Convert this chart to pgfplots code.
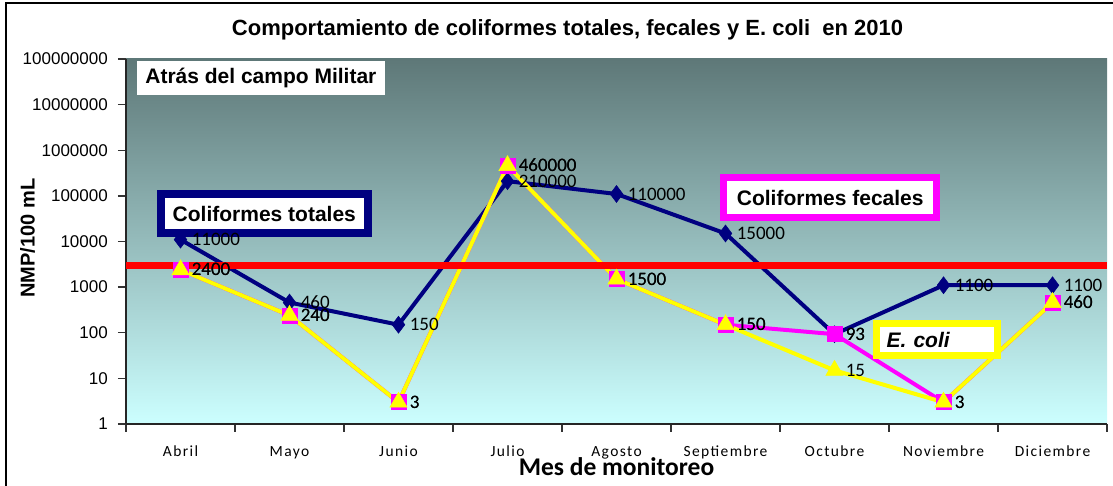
\documentclass[border=0pt]{standalone}
\usepackage{fontspec}
\setmainfont{Liberation Sans}
\newfontfamily\calibri{Carlito}
\newfontfamily\calibrisp{Carlito}[LetterSpace=9]
\usepackage{pgfplots}
\pgfplotsset{compat=1.18}
\definecolor{navyc}{RGB}{0,0,128}
\definecolor{magc}{RGB}{255,0,255}
\definecolor{yelc}{RGB}{255,255,0}
\definecolor{bgtop}{RGB}{94,120,120}
\definecolor{bgbot}{RGB}{204,255,255}
\newcommand\fs[1]{\fontsize{#1}{#1}\selectfont}
\begin{document}
\begin{tikzpicture}
\path[use as bounding box] (0pt,0pt) rectangle (1113pt,485pt);
\draw[black, line width=2pt] (6pt,-5pt) -- (6pt,482pt) -- (1120pt,482pt);
\begin{axis}[
  at={(126pt,61pt)}, anchor=south west,
  scale only axis, width=981pt, height=365pt,
  clip=false,
  xmin=-0.5, xmax=8.5,
  ymode=log, ymin=1, ymax=1e8,
  axis background/.style={top color=bgtop, bottom color=bgbot},
  axis x line*=bottom, axis y line*=left,
  axis line style={-, line width=1.5pt, black!85},
  tick align=outside,
  major tick length=8pt,
  every tick/.style={black!80, line width=1.3pt},
  yminorticks=false, xminorticks=false,
  ytick={1,10,100,1000,10000,100000,1000000,10000000,100000000},
  yticklabels={1,10,100,1000,10000,100000,1000000,10000000,100000000},
  yticklabel style={font=\fs{17}, anchor=east, inner sep=0pt, xshift=-10pt},
  xtick={-0.5,0.5,1.5,2.5,3.5,4.5,5.5,6.5,7.5,8.5},
  xticklabels={{},{},{},{},{},{},{},{},{},{}},
  extra x ticks={0,1,2,3,4,5,6,7,8},
  extra x tick labels={Abril,Mayo,Junio,Julio,Agosto,Septiembre,Octubre,Noviembre,Diciembre},
  extra x tick style={major tick length=0pt, xticklabel style={anchor=base, inner sep=0pt, yshift=-32pt, font=\calibrisp\fs{15.5}}},
  title={Comportamiento de coliformes totales, fecales y E. coli\ \ en 2010},
  title style={at={(axis description cs:0.4501,1.0466)}, anchor=base, font=\bfseries\fs{22}},
  xlabel={Mes de monitoreo},
  xlabel style={at={(axis description cs:0.5,0)}, anchor=base, yshift=-51pt, font=\calibri\bfseries\fs{25.5}},
  ylabel={NMP/100 mL},
  ylabel style={at={(axis description cs:-0.1003,0.5096)}, anchor=center, font=\bfseries\fs{20}},
  nodes near coords,
  point meta=explicit symbolic,
  every node near coord/.append style={anchor=west, inner sep=0pt, xshift=11pt, font=\calibri\fs{19}, text=black},
]
% Coliformes totales
\addplot[navyc, line width=4pt, mark=diamond*, mark size=8.5pt,
  mark options={solid, fill=navyc, draw=navyc, line width=0.5pt}]
  coordinates {(0,11000)[11000] (1,460)[460] (2,150)[150] (3,210000)[210000]
  (4,110000)[110000] (5,15000)[15000] (6,93)[93] (7,1100)[1100] (8,1100)[1100]};
% Coliformes fecales
\addplot[magc, line width=4pt, mark=square*, mark size=7.5pt,
  mark options={solid, fill=magc, draw=magc, line width=0.5pt}]
  coordinates {(0,2400)[2400] (1,240)[240] (2,3)[3] (3,460000)[460000]
  (4,1500)[1500] (5,150)[150] (6,93)[93] (7,3)[3] (8,460)[460]};
% E. coli
\addplot[yelc, line width=4pt, mark=triangle*, mark size=10pt,
  mark options={solid, fill=yelc, draw=yelc, line width=0.5pt}]
  coordinates {(0,2400)[2400] (1,240)[240] (2,3)[3] (3,460000)[460000]
  (4,1500)[1500] (5,150)[150] (6,15)[15] (7,3)[3] (8,460)[460]};
% limit line
\addplot[red, line width=7pt, no marks, nodes near coords={}, forget plot]
  coordinates {(-0.5,3000)[{}] (8.5,3000)[{}]};
\node[fill=white, inner sep=0pt, minimum width=248pt, minimum height=34pt, font=\bfseries\fs{21}]
  at (rel axis cs:0.1375,0.9479) {Atrás del campo Militar};
\node[draw=navyc, line width=8pt, fill=white, inner sep=0pt, minimum width=207pt, minimum height=39pt, font=\bfseries\fs{21}]
  at (rel axis cs:0.141,0.5767) {Coliformes totales};
\node[draw=magc, line width=7pt, fill=white, inner sep=0pt, minimum width=213pt, minimum height=40pt, font=\bfseries\fs{21}]
  at (rel axis cs:0.7179,0.6205) {Coliformes fecales};
\node[draw=yelc, line width=7pt, fill=white, inner xsep=10pt, inner ysep=0pt, text width=101pt, minimum height=32pt, align=left, font=\bfseries\itshape\fs{21}]
  at (rel axis cs:0.8269,0.2315) {E. coli};
\end{axis}
\end{tikzpicture}
\end{document}
